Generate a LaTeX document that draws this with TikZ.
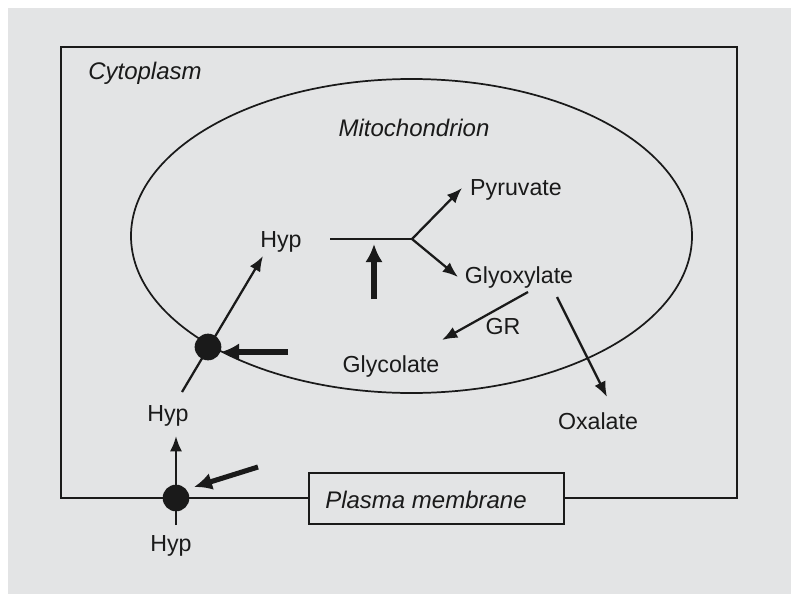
\documentclass[tikz,border=0pt]{standalone}
\usepackage{fontspec}
\setmainfont{Liberation Sans}
\usetikzlibrary{arrows.meta}
\definecolor{bg}{HTML}{E3E4E5}
\definecolor{ink}{HTML}{1A1A1A}
\begin{document}
\begin{tikzpicture}[x=0.75pt,y=-0.75pt,
  lbl/.style={font=\fontsize{17.4}{20}\selectfont, text=ink, inner sep=0pt, anchor=base},
  ilbl/.style={font=\fontsize{18}{20}\selectfont\itshape, text=ink, inner sep=0pt, anchor=base west},
  thinarrow/.style={draw=ink, line width=1.7pt, -{Latex[length=11.5pt,width=9pt]}},
  thickarrow/.style={draw=ink, line width=3.8pt, -{Latex[length=13.5pt,width=13pt]}},
  plainline/.style={draw=ink, line width=1.7pt},
  membrane/.style={draw=ink, line width=1.3pt},
  pmbox/.style={draw=ink, line width=1.5pt, fill=bg, minimum width=191pt, minimum height=38pt, inner sep=0pt},
  transporter/.style={circle, fill=ink, minimum size=20pt, inner sep=0pt}
]
% canvas
\useasboundingbox (0,0) rectangle (800,603);
\fill[white] (0,0) rectangle (800,603);
\fill[bg] (8,8) rectangle (791,594);

% compartments
\draw[membrane] (61,47) rectangle (737,498);
\draw[membrane] (411.5,236) ellipse [x radius=280.5, y radius=157];
\node[pmbox] (pm) at (436.5,498.5) {};

% labels
\node[ilbl] (cyto) at (88,79) {Cytoplasm};
\node[ilbl, anchor=base] (mito) at (414,136) {Mitochondrion};
\node[ilbl] (pmtext) at (325,508) {Plasma membrane};
\node[lbl] (hypM) at (281,247) {Hyp};
\node[lbl] (hypC) at (168,421) {Hyp};
\node[lbl] (hypO) at (171,551) {Hyp};
\node[lbl] (pyr) at (516,195) {Pyruvate};
\node[lbl] (glyox) at (519,283) {Glyoxylate};
\node[lbl] (gr) at (503,334) {GR};
\node[lbl] (glycol) at (391,372) {Glycolate};
\node[lbl] (oxal) at (598,429) {Oxalate};

% coordinates
\coordinate (t1pos) at (208,347);
\coordinate (t2pos) at (176,498);
\coordinate (c1start) at (182,392);
\coordinate (c1tip) at (263,256);
\coordinate (c2start) at (176,525);
\coordinate (c2tip) at (176,436);
\coordinate (bs) at (330,239);
\coordinate (b) at (412,239);
\coordinate (pyrtip) at (462,188);
\coordinate (glyoxtip) at (458,277);
\coordinate (upstart) at (374,299);
\coordinate (uptip) at (374,244);
\coordinate (grstart) at (528,292);
\coordinate (grtip) at (442,340);
\coordinate (oxstart) at (557,297);
\coordinate (oxtip) at (607,397);
\coordinate (k1start) at (288,352);
\coordinate (k1tip) at (221,352);
\coordinate (k2start) at (258,467);
\coordinate (k2tip) at (194,487);

% pathways
\draw[thinarrow] (c1start) -- (c1tip);
\draw[thinarrow] (c2start) -- (c2tip);
\draw[plainline] (bs) -- (b);
\draw[thinarrow] (b) -- (pyrtip);
\draw[thinarrow] (b) -- (glyoxtip);
\draw[thinarrow] (grstart) -- (grtip);
\draw[thinarrow] (oxstart) -- (oxtip);

% regulation arrows
\draw[thickarrow] (upstart) -- (uptip);
\draw[thickarrow] (k1start) -- (k1tip);
\draw[thickarrow] (k2start) -- (k2tip);

% transporters
\node[transporter] (t1) at (t1pos) {};
\node[transporter] (t2) at (t2pos) {};
\end{tikzpicture}
\end{document}
